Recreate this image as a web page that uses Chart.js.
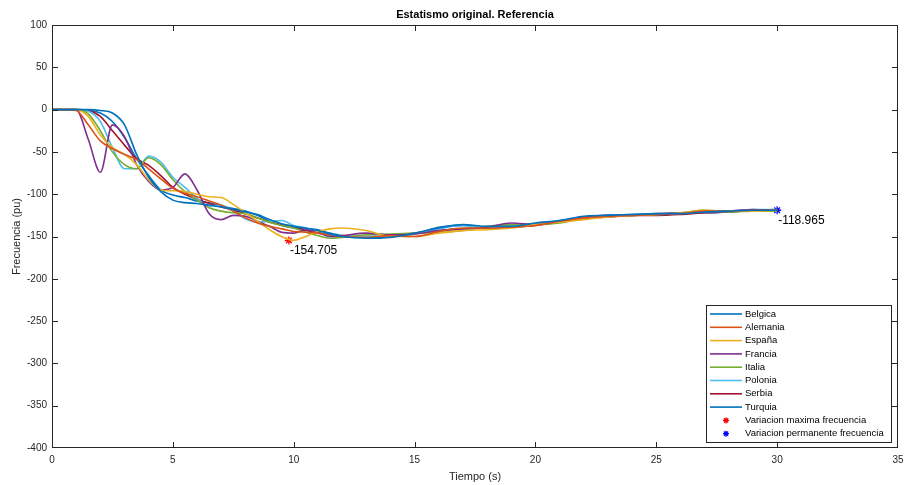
<!DOCTYPE html>
<html>
<head>
<meta charset="utf-8">
<script src="https://cdn.jsdelivr.net/npm/chart.js@4"></script>
<style>
  body { margin: 0; background: #fff; }
  canvas { display: block; }
</style>
</head>
<body>
<canvas id="chart" width="905" height="485"></canvas>
<script>
// tiempo (s) y frecuencia de cada pais
const tiempo = [0, 0.5, 1, 1.5, 2, 2.5, 3, 3.5, 4, 4.5, 5, 5.5, 6, 6.5, 7, 7.5, 8, 8.5, 9, 9.5, 10, 10.5, 11, 11.5, 12,
  13, 14, 15, 16, 17, 18, 19, 20, 21, 22, 23, 24, 25, 26, 27, 28, 29, 30];

const belgica  = [0, 0, 0, 0, -1, -4, -18, -53, -80, -97, -107, -110, -111, -113, -115, -118, -121, -124, -130, -135, -138, -140, -143, -147, -150,
  -152, -151, -146, -140, -136, -138, -138, -134, -131, -126, -125, -124, -123, -123, -121, -120, -119, -119];
const alemania = [0, 0, -1, -18, -37, -46, -53, -59, -70, -82, -93, -99, -103, -108, -113, -120, -128, -134, -138, -141, -144, -145, -146, -148, -150,
  -151, -149, -150, -144, -140, -140, -139, -137, -132, -128, -126, -125, -124, -123, -120, -120, -119, -119];
const espana   = [0, 0, 0, -8, -30, -45, -53, -65, -83, -95, -96, -97, -100, -103, -104, -112, -122, -132, -142, -150, -154.5, -150, -144, -141, -140,
  -143, -150, -150, -146, -143, -142, -140, -136, -133, -130, -127, -125, -124, -122, -119, -120, -120, -119];
const francia  = [0, 0, 0, -35, -74, -18, -32, -65, -85, -95, -92, -76, -95, -123, -130, -125, -126, -132, -138, -145, -146, -142, -145, -150, -149,
  -146, -148, -147, -143, -141, -139, -134, -136, -132, -127, -125, -125, -123, -122, -121, -120, -118, -119];
const italia   = [0, 0, 0, -5, -25, -50, -65, -70, -57, -65, -83, -97, -107, -116, -120, -122, -123, -128, -133, -137, -140, -145, -149, -152, -151,
  -148, -147, -146, -145, -143, -138, -136, -136, -134, -128, -126, -125, -124, -122, -119, -121, -120, -120];
const polonia  = [0, 0, 0, -2, -14, -45, -70, -70, -55, -62, -80, -92, -105, -114, -113, -120, -129, -133, -132, -131, -137, -140, -145, -148, -150,
  -150, -149, -147, -141, -137, -139, -137, -135, -131, -127, -125, -124, -124, -122, -121, -120, -118, -118];
const serbia   = [0, 0, 0, -1, -8, -25, -42, -58, -66, -78, -92, -100, -106, -111, -115, -119, -123, -128, -133, -136, -138, -143, -146, -148, -150,
  -150, -150, -146, -143, -141, -140, -139, -137, -133, -129, -127, -125, -125, -124, -122, -121, -119, -118];
const turquia  = [0, 0, 0, -1, -4, -14, -33, -58, -78, -95, -101, -104, -108, -110, -114, -117, -120, -125, -132, -137, -140, -141, -142, -146, -149,
  -151, -150, -147, -139, -137, -139, -138, -135, -132, -127, -125, -124, -124, -122, -122, -121, -119, -119];

const paises = ['Belgica', 'Alemania', 'España', 'Francia', 'Italia', 'Polonia', 'Serbia', 'Turquia'];
const series = [belgica, alemania, espana, francia, italia, polonia, serbia, turquia];
const colores = ['#0072BD', '#D95319', '#EDB120', '#7E2F8E', '#77AC30', '#4DBEEE', '#A2142F', '#0072BD'];

// puntos marcados
const tMax = [9.8];
const fMax = [-154.705];
const tPerm = [30];
const fPerm = [-118.965];

const FONT = '"Liberation Sans", Arial, Helvetica, sans-serif';
const AXIS = '#262626';

const datasets = series.map((s, i) => ({
  label: paises[i],
  data: s.map((v, k) => ({ x: tiempo[k], y: v })),
  borderColor: colores[i],
  backgroundColor: colores[i],
  borderWidth: 1.6,
  pointRadius: 0,
  cubicInterpolationMode: 'monotone',
  fill: false,
}));
datasets.push({
  label: 'Variacion maxima frecuencia',
  type: 'scatter',
  data: tMax.map((t, k) => ({ x: t, y: fMax[k] })),
  borderColor: '#FF0000',
  backgroundColor: '#FF0000',
  pointStyle: 'star',
  pointRadius: 4,
  borderWidth: 1.3,
});
datasets.push({
  label: 'Variacion permanente frecuencia',
  type: 'scatter',
  data: tPerm.map((t, k) => ({ x: t, y: fPerm[k] })),
  borderColor: '#0000FF',
  backgroundColor: '#0000FF',
  pointStyle: 'star',
  pointRadius: 4,
  borderWidth: 1.3,
});

function star(ctx, x, y, r, color) {
  ctx.save();
  ctx.strokeStyle = color;
  ctx.lineWidth = 1.3;
  ctx.beginPath();
  for (let a = 0; a < 4; a++) {
    const ang = a * Math.PI / 4;
    ctx.moveTo(x - r * Math.cos(ang), y - r * Math.sin(ang));
    ctx.lineTo(x + r * Math.cos(ang), y + r * Math.sin(ang));
  }
  ctx.stroke();
  ctx.restore();
}

// fondo, caja, marcas interiores, textos y leyenda al estilo MATLAB
const matlabLook = {
  id: 'matlabLook',
  beforeDraw(chart) {
    const ctx = chart.ctx;
    ctx.save();
    ctx.fillStyle = '#fff';
    ctx.fillRect(0, 0, chart.width, chart.height);
    ctx.restore();
  },
  afterDraw(chart) {
    const ctx = chart.ctx;
    const a = chart.chartArea;
    const xs = chart.scales.x, ys = chart.scales.y;
    ctx.save();

    // caja
    ctx.strokeStyle = AXIS;
    ctx.lineWidth = 1;
    ctx.strokeRect(a.left + 0.5, a.top + 0.5, a.right - a.left - 1, a.bottom - a.top - 1);

    // marcas
    ctx.beginPath();
    xs.ticks.forEach(t => {
      const px = Math.min(Math.round(xs.getPixelForValue(t.value)), a.right - 1) + 0.5;
      ctx.moveTo(px, a.bottom); ctx.lineTo(px, a.bottom - 6);
      ctx.moveTo(px, a.top); ctx.lineTo(px, a.top + 6);
    });
    ys.ticks.forEach(t => {
      const py = Math.min(Math.round(ys.getPixelForValue(t.value)), a.bottom - 1) + 0.5;
      ctx.moveTo(a.left, py); ctx.lineTo(a.left + 6, py);
      ctx.moveTo(a.right, py); ctx.lineTo(a.right - 6, py);
    });
    ctx.stroke();

    // titulo y ejes
    ctx.fillStyle = '#000';
    ctx.textAlign = 'center';
    ctx.textBaseline = 'middle';
    ctx.font = 'bold 11px ' + FONT;
    ctx.fillText('Estatismo original. Referencia', (a.left + a.right) / 2, 15);
    ctx.fillStyle = AXIS;
    ctx.font = '11px ' + FONT;
    ctx.fillText('Tiempo (s)', (a.left + a.right) / 2, 477);
    ctx.save();
    ctx.translate(17, (a.top + a.bottom) / 2);
    ctx.rotate(-Math.PI / 2);
    ctx.fillText('Frecuencia (pu)', 0, 0);
    ctx.restore();

    // etiquetas de los puntos
    ctx.fillStyle = '#000';
    ctx.textAlign = 'left';
    ctx.textBaseline = 'top';
    ctx.font = '12px ' + FONT;
    ctx.fillText(fMax[0].toFixed(3), xs.getPixelForValue(tMax[0]) + 1, ys.getPixelForValue(fMax[0]) + 4);
    ctx.fillText(fPerm[0].toFixed(3), xs.getPixelForValue(tPerm[0]) + 1, ys.getPixelForValue(fPerm[0]) + 4);

    // leyenda
    const lw = 185, lh = 137;
    const lx = a.right - 7 - lw, ly = a.bottom - 6 - lh;
    ctx.fillStyle = '#fff';
    ctx.fillRect(lx, ly, lw, lh);
    ctx.strokeStyle = AXIS;
    ctx.strokeRect(lx + 0.5, ly + 0.5, lw, lh);
    ctx.font = '9.5px ' + FONT;
    ctx.textBaseline = 'middle';
    chart.data.datasets.forEach((ds, i) => {
      const ry = ly + 9 + i * 13.3;
      if (ds.type === 'scatter') {
        star(ctx, lx + 20, ry, 3, ds.borderColor);
      } else {
        ctx.strokeStyle = ds.borderColor;
        ctx.lineWidth = 1.6;
        ctx.beginPath();
        ctx.moveTo(lx + 4, ry); ctx.lineTo(lx + 36, ry);
        ctx.stroke();
      }
      ctx.fillStyle = '#000';
      ctx.fillText(ds.label, lx + 39, ry);
    });
    ctx.restore();
  }
};

new Chart(document.getElementById('chart').getContext('2d'), {
  type: 'line',
  data: { datasets: datasets },
  options: {
    responsive: false,
    animation: false,
    events: [],
    layout: { padding: { top: 25, right: 7, left: 0, bottom: 0 } },
    plugins: {
      legend: { display: false },
      title: { display: false },
      tooltip: { enabled: false },
    },
    scales: {
      x: {
        type: 'linear',
        min: 0, max: 35,
        afterFit: s => { s.height = 37; s.paddingRight = 0; s.paddingLeft = 0; },
        grid: { display: false, drawTicks: false },
        border: { display: false },
        ticks: { stepSize: 5, padding: 6, color: AXIS, font: { family: FONT, size: 10 }, maxRotation: 0 },
      },
      y: {
        type: 'linear',
        min: -400, max: 100,
        afterFit: s => { s.width = 52; s.paddingTop = 0; s.paddingBottom = 0; },
        grid: { display: false, drawTicks: false },
        border: { display: false },
        ticks: { stepSize: 50, padding: 5, color: AXIS, font: { family: FONT, size: 10 } },
      },
    },
  },
  plugins: [matlabLook],
});
</script>
</body>
</html>
